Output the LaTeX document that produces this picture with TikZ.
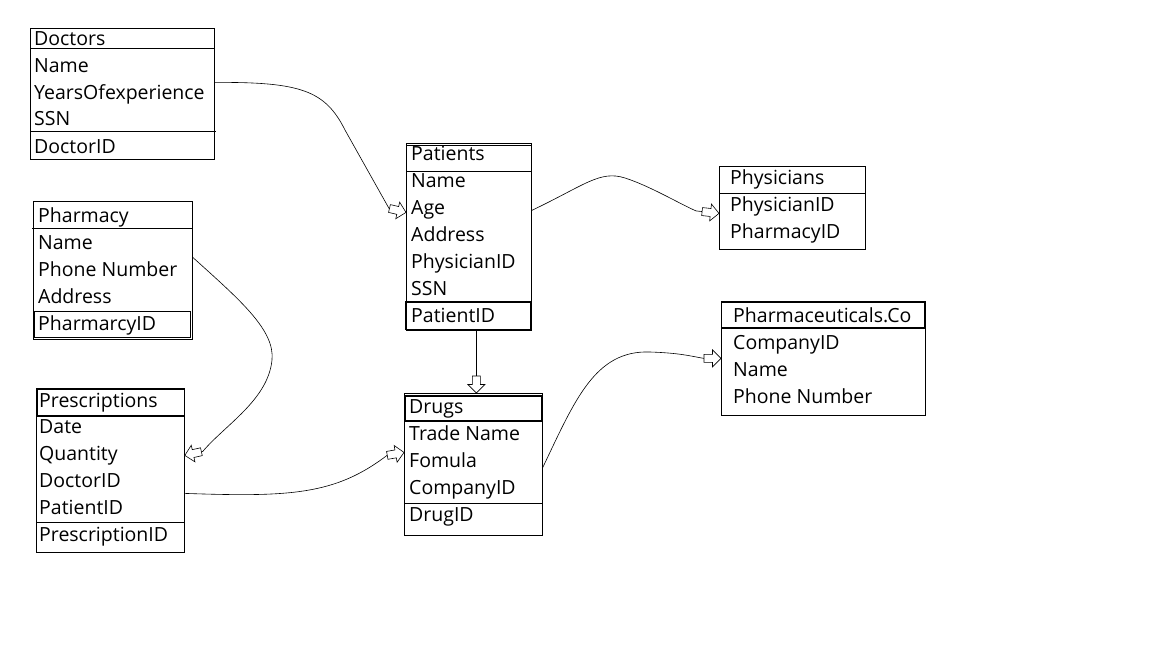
\documentclass[tikz,border=0pt]{standalone}
\usepackage{fontspec}
\setmainfont{Open Sans}
\usetikzlibrary{decorations.markings}
\tikzset{
  box/.style={draw, line width=0.8pt, anchor=north west, inner sep=0pt, fill=none},
  txt/.style={anchor=base west, inner sep=0pt, font=\fontsize{19.5}{22}\selectfont},
  conn/.style={draw, line width=0.6pt},
  hollow/.style={postaction={decorate, decoration={markings,
    mark=at position 1 with {\draw[fill=white, line width=0.6pt]
      (0pt,0pt) -- (-8.5pt,-8.5pt) -- (-8.5pt,-4pt) -- (-17pt,-4pt) -- (-17pt,4pt)
      -- (-8.5pt,4pt) -- (-8.5pt,8.5pt) -- cycle;}}}}
}
\begin{document}
\begin{tikzpicture}[x=1pt,y=-1pt]
\useasboundingbox[fill=white] (0,0) rectangle (1152,648);

% ---------- Doctors ----------
\node[box, minimum width=184pt, minimum height=131pt] (doctors) at (30,28) {};
\draw[line width=0.8pt] (30,48) -- (214,48);
\draw[line width=0.8pt] (30,131) -- (216,131);
\node[txt] (d0) at (34,45) {Doctors};
\node[txt] (d1) at (34,72) {Name};
\node[txt] (d2) at (34,99) {YearsOfexperience};
\node[txt] (d3) at (34,125) {SSN};
\node[txt] (d4) at (34,153) {DoctorID};

% ---------- Pharmacy ----------
\node[box, minimum width=159pt, minimum height=138pt] (pharmacy) at (33,201) {};
\draw[line width=0.8pt] (32,228) -- (193,228);
\draw[line width=0.8pt] (34,311) rectangle (190,337);
\node[txt] (h0) at (38,222) {Pharmacy};
\node[txt] (h1) at (38,249) {Name};
\node[txt] (h2) at (38,276) {Phone Number};
\node[txt] (h3) at (38,303) {Address};
\node[txt] (h4) at (38,330) {PharmarcyID};

% ---------- Prescriptions ----------
\node[box, minimum width=148pt, minimum height=164pt] (prescriptions) at (36,388) {};
\draw[line width=1.4pt] (37,389) rectangle (184.5,416);
\draw[line width=0.8pt] (37,522) -- (184,522);
\node[txt] (r0) at (39,407) {Prescriptions};
\node[txt] (r1) at (39,433) {Date};
\node[txt] (r2) at (39,460) {Quantity};
\node[txt] (r3) at (39,487) {DoctorID};
\node[txt] (r4) at (39,514) {PatientID};
\node[txt] (r5) at (39,541) {PrescriptionID};

% ---------- Patients ----------
\node[box, minimum width=125pt, minimum height=187pt] (patients) at (406,143) {};
\draw[line width=0.8pt] (406,145.5) -- (531,145.5);
\draw[line width=0.8pt] (406,171) -- (531,171);
\draw[line width=1.6pt] (406,302) rectangle (530.5,329.5);
\node[txt] (p0) at (411,160) {Patients};
\node[txt] (p1) at (411,187) {Name};
\node[txt] (p2) at (411,214) {Age};
\node[txt] (p3) at (411,241) {Address};
\node[txt] (p4) at (411,268) {PhysicianID};
\node[txt] (p5) at (411,295) {SSN};
\node[txt] (p6) at (411,322) {PatientID};

% ---------- Physicians ----------
\node[box, minimum width=146pt, minimum height=83pt] (physicians) at (719,166) {};
\draw[line width=0.8pt] (719,193) -- (865,193);
\node[txt] (y0) at (730,184) {Physicians};
\node[txt] (y1) at (730,211) {PhysicianID};
\node[txt] (y2) at (730,238) {PharmacyID};

% ---------- Pharmaceuticals.Co ----------
\node[box, minimum width=204pt, minimum height=114pt] (pharmaco) at (721,301) {};
\draw[line width=1.6pt] (721.5,302) rectangle (925,328);
\node[txt] (c0) at (733,322) {Pharmaceuticals.Co};
\node[txt] (c1) at (733,349) {CompanyID};
\node[txt] (c2) at (733,376) {Name};
\node[txt] (c3) at (733,403) {Phone Number};

% ---------- Drugs ----------
\node[box, minimum width=138pt, minimum height=142pt] (drugs) at (404,393) {};
\draw[line width=0.8pt] (404,395.5) -- (542,395.5);
\draw[line width=1.4pt] (405,396) rectangle (541.5,421);
\draw[line width=0.8pt] (404,503) -- (542,503);
\node[txt] (g0) at (409,413) {Drugs};
\node[txt] (g1) at (409,440) {Trade Name};
\node[txt] (g2) at (409,467) {Fomula};
\node[txt] (g3) at (409,494) {CompanyID};
\node[txt] (g4) at (409,521) {DrugID};

% ---------- Connectors ----------
\draw[conn, hollow] ([yshift=11.5pt]doctors.east)
  .. controls (300,82) and (325,90) .. (345,130)
  -- ([xshift=-17pt,yshift=28.5pt]patients.west) -- ([yshift=24.5pt]patients.west);

\draw[conn, hollow] ([yshift=26.5pt]patients.east)
  .. controls (585,185) and (600,170) .. (625,178)
  .. controls (650,186) and (680,204) .. ([xshift=-23pt,yshift=-3pt]physicians.west)
  -- ([yshift=-5.5pt]physicians.west);

\draw[conn, hollow] ([xshift=7.5pt]patients.south) -- ([xshift=7.5pt]patients.south |- drugs.north);

\draw[conn, hollow] ([yshift=13pt]pharmacy.east)
  .. controls (240,300) and (275,330) .. (272,360)
  .. controls (268,400) and (225,425) .. ([xshift=18pt,yshift=19pt]prescriptions.east)
  -- ([yshift=15pt]prescriptions.east);

\draw[conn, hollow] ([yshift=-23pt]prescriptions.east)
  .. controls (290,497) and (335,495) .. ([xshift=-17pt,yshift=9pt]drugs.west)
  -- ([yshift=12pt]drugs.west);

\draw[conn, hollow] ([yshift=-3pt]drugs.east)
  .. controls (575,400) and (595,350) .. (650,352)
  .. controls (680,353) and (690,356) .. ([xshift=-17pt]pharmaco.west)
  -- (pharmaco.west);
\end{tikzpicture}
\end{document}
